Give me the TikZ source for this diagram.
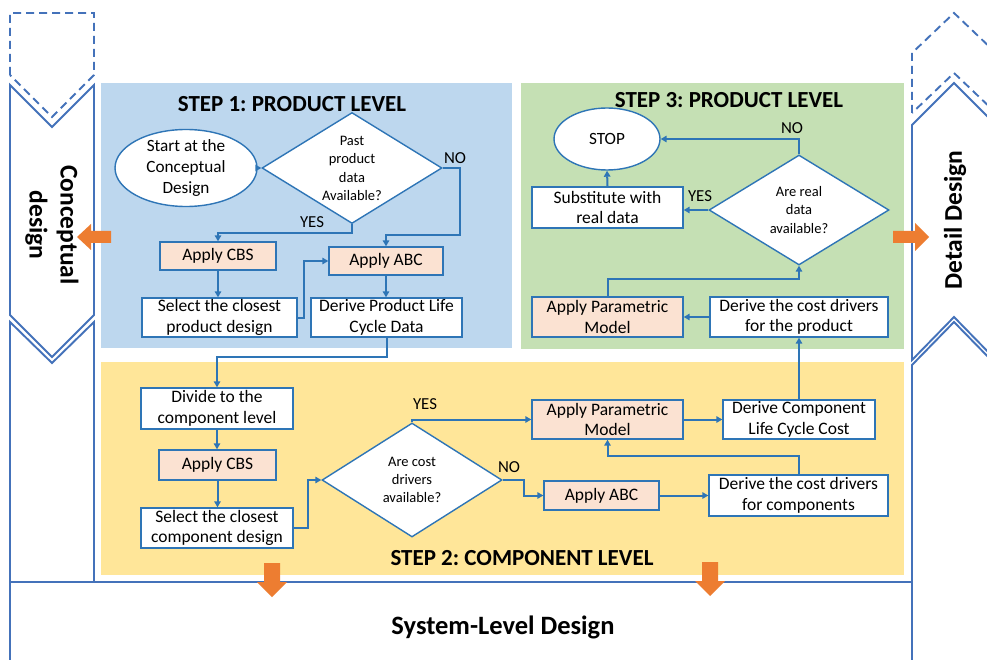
\documentclass[tikz,border=0pt]{standalone}
\usepackage{fontspec}
\setmainfont{Carlito}
\usetikzlibrary{arrows.meta,shapes.geometric,calc}
\definecolor{lineblue}{RGB}{46,117,182}
\definecolor{frameblue}{RGB}{68,114,186}
\definecolor{panelblue}{RGB}{189,215,238}
\definecolor{panelgreen}{RGB}{197,224,180}
\definecolor{panelyellow}{RGB}{255,230,153}
\definecolor{peach}{RGB}{251,226,210}
\definecolor{orangearr}{RGB}{237,125,49}
\frenchspacing
\begin{document}
\begin{tikzpicture}[x=1pt,y=-1pt,
  box/.style={draw=lineblue,line width=1.4pt,fill=white,rectangle,inner sep=0pt,align=center,font=\fontsize{17.5}{20.5}\selectfont},
  pbox/.style={box,fill=peach},
  ell/.style={draw=lineblue,line width=1.4pt,fill=white,ellipse,inner sep=0pt},
  dia/.style={draw=lineblue,line width=1.4pt,fill=white,diamond,inner sep=0pt},
  txt/.style={align=center,inner sep=0pt,font=\fontsize{17.2}{20.8}\selectfont},
  diatext/.style={align=center,inner sep=0pt,font=\fontsize{14.5}{18.3}\selectfont},
  lbl/.style={inner sep=0pt,font=\fontsize{16.8}{20}\selectfont},
  title/.style={inner sep=0pt,font=\fontsize{23}{27}\selectfont\bfseries},
  side/.style={inner sep=0pt,align=center,font=\fontsize{25.5}{31}\selectfont\bfseries},
  arr/.style={draw=lineblue,line width=2pt,-{Triangle[length=6pt,width=6.5pt]}},
  frame/.style={draw=frameblue,line width=1.9pt,line join=miter},
  dframe/.style={frame,dash pattern=on 8pt off 5pt},
  orange/.style={fill=orangearr}
]
\useasboundingbox (0,0) rectangle (987,660);
\clip (0,0) rectangle (987,660);
\fill[white] (0,0) rectangle (987,660);

% panels
\fill[panelblue] (101,83) rectangle (512,348);
\fill[panelgreen] (521,83) rectangle (904,349);
\fill[panelyellow] (101,362) rectangle (904,575);

% left column
\draw[dframe] (10,75) -- (10,13) -- (94,13) -- (94,75) -- (52,117) -- cycle;
\draw[frame] (10,85) -- (52,127) -- (94,85) -- (94,315) -- (52,357) -- (10,315) -- cycle;
\draw[frame] (10,660) -- (10,322) -- (52,363) -- (94,322) -- (94,582);
% right column
\draw[dframe] (912,113) -- (912,53) -- (954,13) -- (996,53) -- (996,113) -- (954,73) -- cycle;
\draw[frame] (912,125) -- (954,83) -- (996,125) -- (996,360) -- (954,317) -- (912,360) -- cycle;
\draw[frame] (912,660) -- (912,365) -- (954,322) -- (996,365);
% system level line
\draw[frame] (10,582) -- (912,582);

\node[side,rotate=-90] (concept) at (52,225) {Conceptual\\design};
\node[side,rotate=90] (detail) at (955,220) {Detail Design};
\node[inner sep=0pt,anchor=base,font=\fontsize{26.5}{30}\selectfont\bfseries] (sysl) at (503,634) {System-Level Design};

% titles
\node[title] (t1) at (292,104.5) {STEP 1: PRODUCT LEVEL};
\node[title] (t3) at (729,100) {STEP 3: PRODUCT LEVEL};
\node[title] (t2) at (522,558.5) {STEP 2: COMPONENT LEVEL};

% ---------- STEP 1
\node[ell,minimum width=142pt,minimum height=77pt] (start) at (186,168) {};
\node[txt] (startt) at (186,168) {Start at the\\Conceptual\\Design};
\node[dia,minimum width=180pt,minimum height=111pt] (d1) at (352,168) {};
\node[diatext] (d1t) at (352,168.5) {Past\\product\\data\\Available?};
\node[pbox,minimum width=116pt,minimum height=28pt] (cbs1) at (218,256) {Apply CBS};
\node[pbox,minimum width=114pt,minimum height=28pt] (abc1) at (386,261) {Apply ABC};
\node[box,minimum width=155pt,minimum height=39pt] (sel1) at (219.5,317.5) {Select the closest\\product design};
\node[box,minimum width=151pt,minimum height=39pt] (der1) at (386.5,317.5) {Derive Product Life\\Cycle Data};

\node[lbl] (no1) at (455,158) {NO};
\node[lbl] (yes1) at (312,222) {YES};

\draw[arr] (start.east) -- (d1.west);
\draw[arr] (d1.east) -| (460,235) -| (abc1.north);
\draw[arr] (d1.south) -- ++(0,9) -| (cbs1.north);
\draw[arr] (cbs1.south) -- (cbs1.south |- sel1.north);
\draw[arr] (sel1.east) -- ++(6,0) |- (abc1.west);
\draw[arr] (abc1.south) -- (abc1.south |- der1.north);

% ---------- STEP 2
\node[box,minimum width=152pt,minimum height=41pt] (div) at (217,408.5) {Divide to the\\component level};
\node[pbox,minimum width=117pt,minimum height=30pt] (cbs2) at (217.5,465) {Apply CBS};
\node[box,minimum width=152pt,minimum height=40pt] (sel2) at (217,528) {Select the closest\\component design};
\node[dia,minimum width=180pt,minimum height=114pt] (d2) at (412,480) {};
\node[diatext] (d2t) at (412,480) {Are cost\\drivers\\available?};
\node[pbox,minimum width=151pt,minimum height=39pt] (apm2) at (607.5,419.5) {Apply Parametric\\Model};
\node[box,minimum width=152pt,minimum height=39pt] (dclc) at (799,419.5) {Derive Component\\Life Cycle Cost};
\node[pbox,minimum width=115pt,minimum height=29pt] (abc2) at (601.5,495.5) {Apply ABC};
\node[box,minimum width=179pt,minimum height=41pt] (dcd2) at (798.5,495.5) {Derive the cost drivers\\for components};

\node[lbl] (yes2) at (425,404) {YES};
\node[lbl] (no2) at (509,467) {NO};

\draw[arr] (der1.south) -- ++(0,19) -| (div.north);
\draw[arr] (div.south) -- (div.south |- cbs2.north);
\draw[arr] (cbs2.south) -- (cbs2.south |- sel2.north);
\draw[arr] (sel2.east) -- ++(14,0) |- (d2.west);
\draw[arr] (d2.north) |- (apm2.west);
\draw[arr] (d2.east) -- ++(21,0) |- (abc2.west);
\draw[arr] (apm2.east) -- (dclc.west);
\draw[arr] (abc2.east) -- (dcd2.west);
\draw[arr] (dcd2.north) -- ++(0,-18) -| (apm2.south);

% ---------- STEP 3
\node[ell,minimum width=106pt,minimum height=62pt] (stop) at (607,139) {};
\node[txt] (stopt) at (607,139) {STOP};
\node[dia,minimum width=180pt,minimum height=110pt] (d3) at (799,210) {};
\node[diatext] (d3t) at (799,210) {Are real\\data\\available?};
\node[box,minimum width=151pt,minimum height=41pt] (sub) at (607.5,207.5) {Substitute with\\real data};
\node[pbox,minimum width=151pt,minimum height=40pt] (apm3) at (607.5,317) {Apply Parametric\\Model};
\node[box,minimum width=178pt,minimum height=40pt] (dcd3) at (799,317) {Derive the cost drivers\\for the product};

\node[lbl] (no3) at (792,128) {NO};
\node[lbl] (yes3) at (700,196) {YES};

\draw[arr] (dclc.north) -- (dcd3.south);
\draw[arr] (dcd3.west) -- (apm3.east);
\draw[arr] (apm3.north) -- ++(0,-17) -| (d3.south);
\draw[arr] (d3.west) -- (d3.west -| sub.east);
\draw[arr] (d3.north) |- (stop.east);
\draw[arr] (sub.north) -- (stop.south);

% orange arrows
\fill[orange] (111,231) -- (91,231) -- (91,224) -- (77,237) -- (91,250) -- (91,243) -- (111,243) -- cycle;
\fill[orange] (893,231) -- (915,231) -- (915,223) -- (929,237) -- (915,251) -- (915,243) -- (893,243) -- cycle;
\fill[orange] (264,563) -- (280,563) -- (280,582) -- (287,582) -- (272,597) -- (257,582) -- (264,582) -- cycle;
\fill[orange] (702,562) -- (718,562) -- (718,581) -- (725,581) -- (710,596) -- (695,581) -- (702,581) -- cycle;
\end{tikzpicture}
\end{document}
